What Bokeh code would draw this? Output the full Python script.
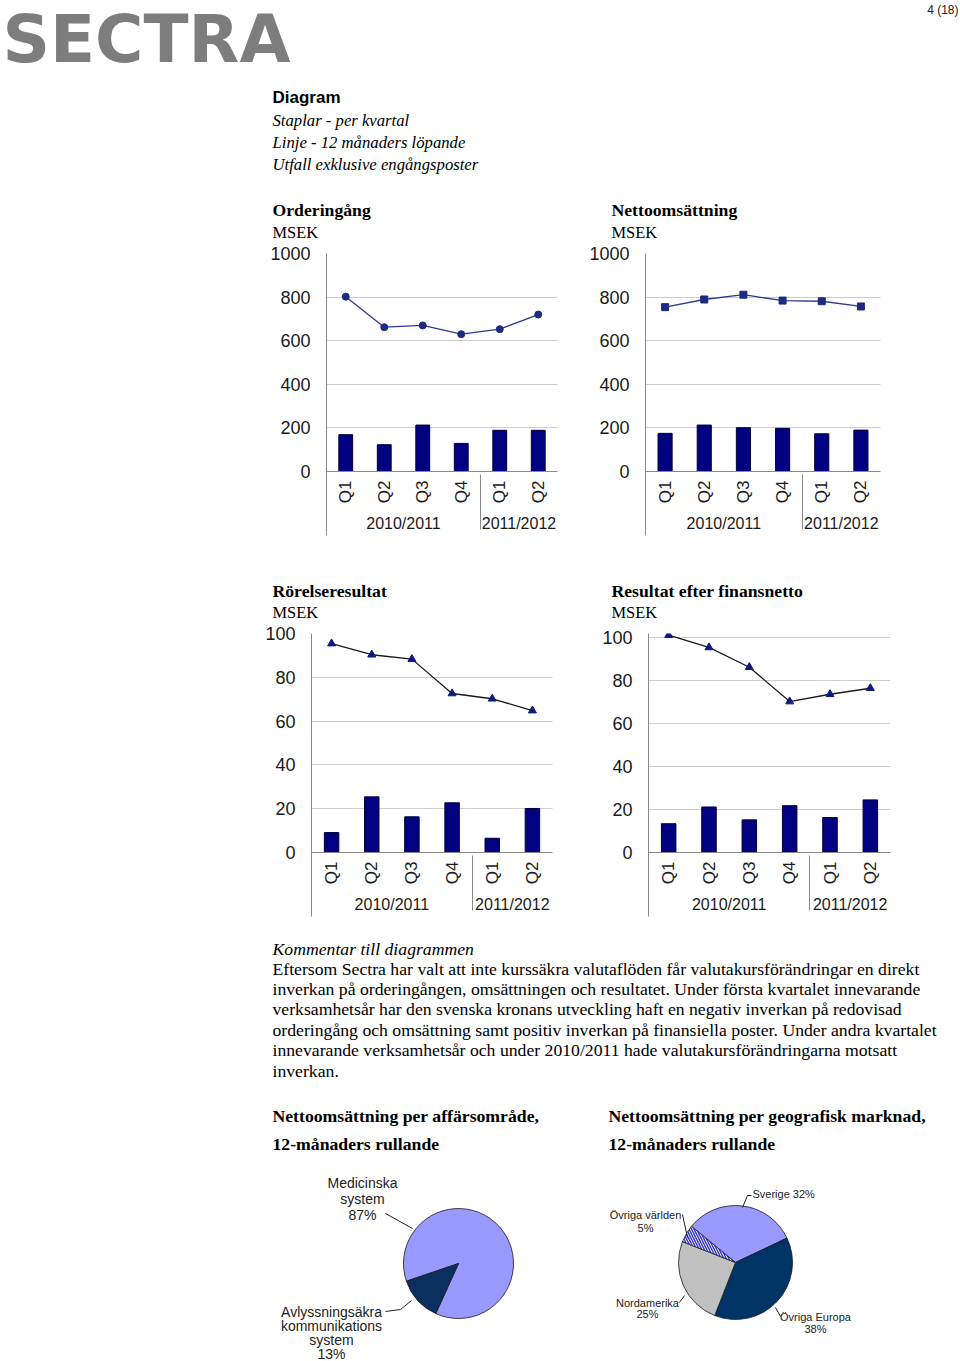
import math
import numpy as np
from bokeh.plotting import figure
from bokeh.models import FactorRange, Range1d, FixedTicker, CategoricalAxis
from bokeh.layouts import column, row
from bokeh.core.properties import value
from bokeh.embed import file_html
from bokeh.resources import INLINE

# ---------------- data ----------------
years = ["2010/2011", "2010/2011", "2010/2011", "2010/2011", "2011/2012", "2011/2012"]
quarters = ["Q1", "Q2", "Q3", "Q4", "Q1", "Q2"]

order_bars = [169, 123, 213, 129, 189, 189]
order_line = [802, 662, 670, 630, 653, 720]

sales_bars = [175, 213, 201, 198, 173, 190]
sales_line = [754, 789, 811, 784, 781, 757]

ebit_bars = [9.1, 25.4, 16.3, 22.7, 6.5, 20.1]
ebit_line = [95.4, 90.3, 88.3, 72.6, 70.2, 64.8]

ebt_bars = [13.4, 21.2, 15.2, 21.8, 16.3, 24.5]
ebt_line = [101.2, 95.5, 86.3, 70.3, 73.7, 76.5]

ticks_msek_big = [0, 200, 400, 600, 800, 1000]
ticks_msek_small = [0, 20, 40, 60, 80, 100]

chart_titles = ["Orderingång", "Nettoomsättning", "Rörelseresultat", "Resultat efter finansnetto"]
unit_label = "MSEK"

pie1_names = [["Medicinska", "system"], ["Avlyssningsäkra", "kommunikations", "system"]]
pie1_values = [87, 13]
pie2_names = [["Sverige"], ["Övriga Europa"], ["Nordamerika"], ["Övriga världen"]]
pie2_values = [32, 38, 25, 5]

header_lines = ["Staplar - per kvartal", "Linje - 12 månaders löpande", "Utfall exklusive engångsposter"]
comment_title = "Kommentar till diagrammen"
comment_lines = [
    "Eftersom Sectra har valt att inte kurssäkra valutaflöden får valutakursförändringar en direkt",
    "inverkan på orderingången, omsättningen och resultatet. Under första kvartalet innevarande",
    "verksamhetsår har den svenska kronans utveckling haft en negativ inverkan på redovisad",
    "orderingång och omsättning samt positiv inverkan på finansiella poster. Under andra kvartalet",
    "innevarande verksamhetsår och under 2010/2011 hade valutakursförändringarna motsatt",
    "inverkan.",
]
pie_titles = [["Nettoomsättning per affärsområde,", "12-månaders rullande"],
              ["Nettoomsättning per geografisk marknad,", "12-månaders rullande"]]

# ---------------- styles ----------------
SANS = "Liberation Sans"
SERIF = "Liberation Serif"
BAR_FILL = "#000080"
BAR_LINE = "#00003a"
AXIS_GRAY = "#8a8a8a"
TITLE_SIZE = "17.7px"


def canvas(x0, x1, y0, y1):
    p = figure(width=x1 - x0, height=y1 - y0, x_range=Range1d(x0, x1), y_range=Range1d(y1, y0),
               x_axis_type=None, y_axis_type=None, toolbar_location=None, output_backend="svg",
               min_border=0)
    p.grid.visible = False
    p.outline_line_color = None
    p.background_fill_color = "white"
    p.border_fill_color = "white"
    return p


def put(p, x, y, txt, font=SERIF, size="16px", style="normal", align="left", color="#000000"):
    p.text(x=[x], y=[y], text=[txt], text_font=value(font), text_font_size=value(size),
           text_font_style=style, text_align=align, text_baseline="middle", text_color=color)


def chart(bars, line, marker, msize, ymax, yticks, w, h, ml, mr, mt, mb, lcolor, mcolor):
    factors = list(zip(years, quarters))
    p = figure(x_range=FactorRange(factors=factors, factor_padding=0, group_padding=0,
                                   subgroup_padding=0, range_padding=0),
               y_range=Range1d(0, ymax), width=w, height=h,
               min_border_left=ml, min_border_right=mr, min_border_top=mt, min_border_bottom=mb,
               toolbar_location=None, output_backend="svg")
    p.outline_line_color = None
    p.background_fill_color = "white"
    p.border_fill_color = "white"
    p.vbar(x=factors, top=bars, width=0.36, fill_color=BAR_FILL, line_color=BAR_LINE, line_width=1)
    p.line(x=factors, y=line, line_color=lcolor, line_width=1.3)
    p.scatter(x=factors, y=line, marker=marker, size=msize, fill_color=mcolor, line_color=mcolor)

    p.xgrid.visible = False
    p.ygrid.grid_line_color = "#9a9a9a"
    p.ygrid.grid_line_dash = "1 1"
    p.ygrid.ticker = FixedTicker(ticks=yticks)
    p.yaxis.ticker = FixedTicker(ticks=yticks)
    p.yaxis.major_tick_line_color = None
    p.yaxis.major_tick_out = 0
    p.yaxis.major_tick_in = 0
    p.yaxis.minor_tick_line_color = None
    p.yaxis.axis_line_color = AXIS_GRAY
    p.yaxis.major_label_standoff = 16
    p.yaxis.major_label_text_font = SANS
    p.yaxis.major_label_text_font_size = "18px"
    p.yaxis.major_label_text_color = "#1a1a1a"

    xa = p.xaxis[0]
    xa.axis_line_color = AXIS_GRAY
    xa.major_tick_line_color = None
    xa.major_tick_out = 0
    xa.major_tick_in = 0
    xa.major_label_orientation = math.pi / 2
    xa.major_label_standoff = 9
    xa.major_label_text_font = SANS
    xa.major_label_text_font_size = "17px"
    xa.major_label_text_color = "#1a1a1a"
    xa.group_text_font = SANS
    xa.group_text_font_size = "16px"
    xa.group_text_font_style = "normal"
    xa.group_text_color = "#1a1a1a"
    xa.separator_line_color = AXIS_GRAY
    xa.separator_line_width = 1

    # left edge line: continues the value axis down through the category labels.
    # An outer categorical axis whose only tick sits at the frame's left edge, drawn inward.
    p.extra_x_ranges = {"edge": FactorRange(factors=["a", "b"], factor_padding=100000,
                                            range_padding=0)}
    edge = CategoricalAxis(x_range_name="edge", bounds=(0, 1), axis_line_color=None,
                           major_tick_in=80, major_tick_out=0, major_tick_line_color=AXIS_GRAY,
                           major_tick_line_width=1, major_label_text_font_size="0px",
                           major_label_text_color=None, major_label_standoff=0,
                           major_label_overrides={"a": "", "b": ""})
    p.add_layout(edge, "below")
    return p


def pie(names, values, start_deg, colors, hatch, radius, xr, yr, label_specs, leaders, font_px):
    w = xr[1] - xr[0]
    h = yr[1] - yr[0]
    p = figure(width=w, height=h, x_range=Range1d(*xr), y_range=Range1d(*yr),
               x_axis_type=None, y_axis_type=None, toolbar_location=None, output_backend="svg",
               min_border=0)
    p.grid.visible = False
    p.outline_line_color = None
    vals = np.array(values, dtype=float)
    cum = np.concatenate([[0], np.cumsum(vals) / vals.sum()])
    s0 = math.radians(start_deg)
    starts = [s0 - cum[k + 1] * 2 * math.pi for k in range(len(vals))]
    ends = [s0 - cum[k] * 2 * math.pi for k in range(len(vals))]
    p.wedge(x=[0] * len(vals), y=[0] * len(vals), radius=radius, start_angle=starts, end_angle=ends,
            fill_color=colors, line_color="#1a1a1a", line_width=0.8,
            hatch_pattern=hatch, hatch_color="#3a3ad0", hatch_scale=5, hatch_weight=1.5)
    for (lx, ly, align, step, inline), nm, v in zip(label_specs, names, values):
        lines = list(nm)
        if inline:
            lines[-1] = f"{lines[-1]} {v}%"
        else:
            lines = lines + [f"{v}%"]
        for i, t in enumerate(lines):
            p.text(x=[lx], y=[ly - i * step], text=[t], text_font=value(SANS),
                   text_font_size=value(f"{font_px}px"), text_align=align, text_baseline="middle",
                   text_color="#222222")
    for xs, ys in leaders:
        p.line(x=xs, y=ys, line_color="#222222", line_width=1)
    return p


# ---------------- header ----------------
hdr = canvas(0, 960, 0, 243)
put(hdr, 2, 39, "SECTRA", font="DejaVu Sans", size="66px", style="bold", color="#7d7d7d")
put(hdr, 958, 9, "4 (18)", font=SANS, size="12px", align="right", color="#222222")
put(hdr, 272, 97, "Diagram", font=SANS, size="17px", style="bold")
for i, t in enumerate(header_lines):
    put(hdr, 272, 120 + i * 22, t, size="16.7px", style="italic")
put(hdr, 272, 209, chart_titles[0], size=TITLE_SIZE, style="bold")
put(hdr, 272, 232, unit_label, size="16.4px")
put(hdr, 611, 209, chart_titles[1], size=TITLE_SIZE, style="bold")
put(hdr, 611, 232, unit_label, size="16.4px")

c1 = chart(order_bars, order_line, "circle", 7, 1000, ticks_msek_big, 580, 302, 326, 23, 10, 74,
           "#2e3b8c", "#1c2a80")
c2 = chart(sales_bars, sales_line, "square", 7, 1000, ticks_msek_big, 380, 302, 65, 80, 10, 72,
           "#2e3b8c", "#1c2a80")

mid = canvas(0, 960, 545, 622)
put(mid, 272, 590, chart_titles[2], size=TITLE_SIZE, style="bold")
put(mid, 272, 612, unit_label, size="16.4px")
put(mid, 611, 590, chart_titles[3], size=TITLE_SIZE, style="bold")
put(mid, 611, 612, unit_label, size="16.4px")

c3 = chart(ebit_bars, ebit_line, "triangle", 8, 100, ticks_msek_small, 580, 303, 311, 28, 11, 73,
           "#1a1a1a", "#0d1a80")
c4 = chart(ebt_bars, ebt_line, "triangle", 8, 102, ticks_msek_small, 380, 303, 68, 70, 5, 70,
           "#1a1a1a", "#0d1a80")

bot = canvas(0, 960, 925, 1165)
put(bot, 272, 948, comment_title, size="17.7px", style="italic")
for i, t in enumerate(comment_lines):
    put(bot, 272, 968 + i * 20.4, t, size="17.7px")
put(bot, 272, 1115, pie_titles[0][0], size=TITLE_SIZE, style="bold")
put(bot, 272, 1143, pie_titles[0][1], size=TITLE_SIZE, style="bold")
put(bot, 608, 1115, pie_titles[1][0], size=TITLE_SIZE, style="bold")
put(bot, 608, 1143, pie_titles[1][1], size=TITLE_SIZE, style="bold")

pie1 = pie(pie1_names, pie1_values, 198.8, ["#9999ff", "#0b2f5e"], [" ", " "], 55,
           (-458, 122), (-98, 98),
           [(-96, 81, "center", 16, False), (-127, -48, "center", 14.3, False)],
           [([-73, -46], [50, 35]), ([-73, -58, -47], [-48, -46, -37])], 14)
pie2 = pie(pie2_names, pie2_values, 140.6, ["#9999ff", "#003366", "#c0c0c0", "white"],
           [" ", " ", " ", "\\"], 57,
           (-155, 225), (-99, 97),
           [(17, 69, "left", 12, True), (80, -54, "center", 12, False),
            (-88, -40, "center", 11.5, False), (-90, 48, "center", 13, False)],
           [([16, 12, 7], [67, 67, 55]), ([45, 40], [-54, -45]), ([-56, -51], [-40, -33]),
            ([-53, -48], [48, 25])], 11)

layout = column(hdr, row(c1, c2), mid, row(c3, c4), bot, row(pie1, pie2))
open("out.html", "w").write(file_html(layout, INLINE))
